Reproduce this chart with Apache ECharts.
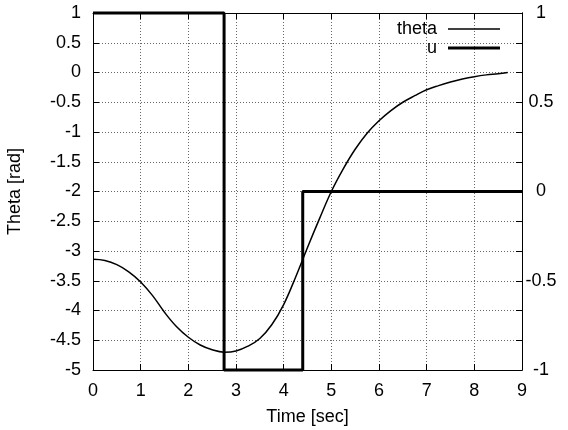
<!DOCTYPE html>
<html>
<head>
<meta charset="utf-8">
<script src="https://cdn.jsdelivr.net/npm/echarts@6/dist/echarts.min.js"></script>
<style>
  html, body { margin: 0; padding: 0; background: #fff; }
  #chart { width: 568px; height: 430px; }
</style>
</head>
<body>
<div id="chart"></div>
<script>
// Pendulum swing-up: angle response and bang-bang control input
const thetaTime = [0, 0.25, 0.5, 0.75, 1.0, 1.25, 1.5, 1.75, 2.0, 2.25, 2.5, 2.75,
  3.0, 3.25, 3.5, 3.75, 4.0, 4.25, 4.5, 4.75, 5.0, 5.25, 5.5, 5.75, 6.0, 6.25,
  6.5, 6.75, 7.0, 7.25, 7.5, 7.75, 8.0, 8.25, 8.5, 8.7];
const thetaValues = [-3.14, -3.16, -3.23, -3.35, -3.52, -3.75, -4.03, -4.27, -4.45,
  -4.58, -4.66, -4.70, -4.68, -4.60, -4.47, -4.24, -3.90, -3.44, -2.94, -2.46,
  -2.00, -1.62, -1.29, -1.02, -0.81, -0.64, -0.50, -0.39, -0.29, -0.22, -0.16,
  -0.11, -0.07, -0.04, -0.02, 0.0];

const uTime = [0, 2.75, 4.4, 9];
const uValues = [1, -1, 0, 0];

const xTicks = { min: 0, max: 9, step: 1 };
const thetaTicks = { min: -5, max: 1, step: 0.5 };
const uTicks = { min: -1, max: 1, step: 0.5 };

const FONT = 'Liberation Sans';
const FS = 18;
const zip = (xs, ys) => xs.map((x, i) => [x, ys[i]]);

const chart = echarts.init(document.getElementById('chart'), null, { renderer: 'canvas' });

const tickStyle = { show: true, inside: true, length: 6, lineStyle: { color: '#000', width: 1 } };
const axisLine = { show: true, onZero: false, lineStyle: { color: '#000', width: 1 } };
const gridLine = { show: true, lineStyle: { color: '#666', width: 1, type: [1, 2] } };
const labelStyle = { color: '#000', fontFamily: FONT, fontSize: FS };
const nameStyle = { color: '#000', fontFamily: FONT, fontSize: FS };
const legendText = { color: '#000', fontFamily: FONT, fontSize: FS, padding: [0, 6, 0, 0] };

chart.setOption({
  animation: false,
  backgroundColor: '#fff',
  grid: { left: 93, right: 46, top: 13, bottom: 60, containLabel: false, outerBoundsMode: 'none' },
  legend: [
    {
      data: [{ name: 'theta', icon: 'rect' }], right: 63, top: 15, align: 'right',
      itemWidth: 52, itemHeight: 1.5, itemGap: 0, textStyle: legendText
    },
    {
      data: [{ name: 'u', icon: 'rect' }], right: 63, top: 34, align: 'right',
      itemWidth: 52, itemHeight: 3, itemGap: 0, textStyle: legendText
    }
  ],
  xAxis: [
    {
      type: 'value', position: 'bottom',
      min: xTicks.min, max: xTicks.max, interval: xTicks.step,
      name: 'Time [sec]', nameLocation: 'middle', nameGap: 38,
      nameTextStyle: nameStyle,
      axisLine, axisTick: tickStyle, splitLine: gridLine,
      axisLabel: Object.assign({ margin: 12 }, labelStyle)
    },
    {
      type: 'value', position: 'top',
      min: xTicks.min, max: xTicks.max, interval: xTicks.step,
      axisLine, axisTick: tickStyle, splitLine: { show: false },
      axisLabel: { show: false }
    }
  ],
  yAxis: [
    {
      type: 'value', position: 'left',
      min: thetaTicks.min, max: thetaTicks.max, interval: thetaTicks.step,
      name: 'Theta [rad]', nameLocation: 'middle', nameGap: 69, nameRotate: 90,
      nameTextStyle: nameStyle,
      axisLine, axisTick: tickStyle, splitLine: gridLine,
      axisLabel: Object.assign({ margin: 12 }, labelStyle)
    },
    {
      type: 'value', position: 'right',
      min: uTicks.min, max: uTicks.max, interval: uTicks.step,
      axisLine, axisTick: tickStyle, splitLine: { show: false },
      axisLabel: Object.assign({ margin: 19, align: 'center' }, labelStyle)
    },
    {
      type: 'value', position: 'right',
      min: thetaTicks.min, max: thetaTicks.max, interval: thetaTicks.step,
      axisLine, axisTick: tickStyle, splitLine: { show: false },
      axisLabel: { show: false }
    }
  ],
  series: [
    {
      name: 'theta', type: 'line', xAxisIndex: 0, yAxisIndex: 0,
      data: zip(thetaTime, thetaValues),
      smooth: 0.4, showSymbol: false, symbol: 'none',
      lineStyle: { color: '#000', width: 1.5 },
      itemStyle: { color: '#000' },
      z: 3
    },
    {
      name: 'u', type: 'line', xAxisIndex: 0, yAxisIndex: 1,
      data: zip(uTime, uValues),
      step: 'end', showSymbol: false, symbol: 'none', clip: false,
      lineStyle: { color: '#000', width: 3 },
      itemStyle: { color: '#000' },
      z: 4
    }
  ]
});
</script>
</body>
</html>
